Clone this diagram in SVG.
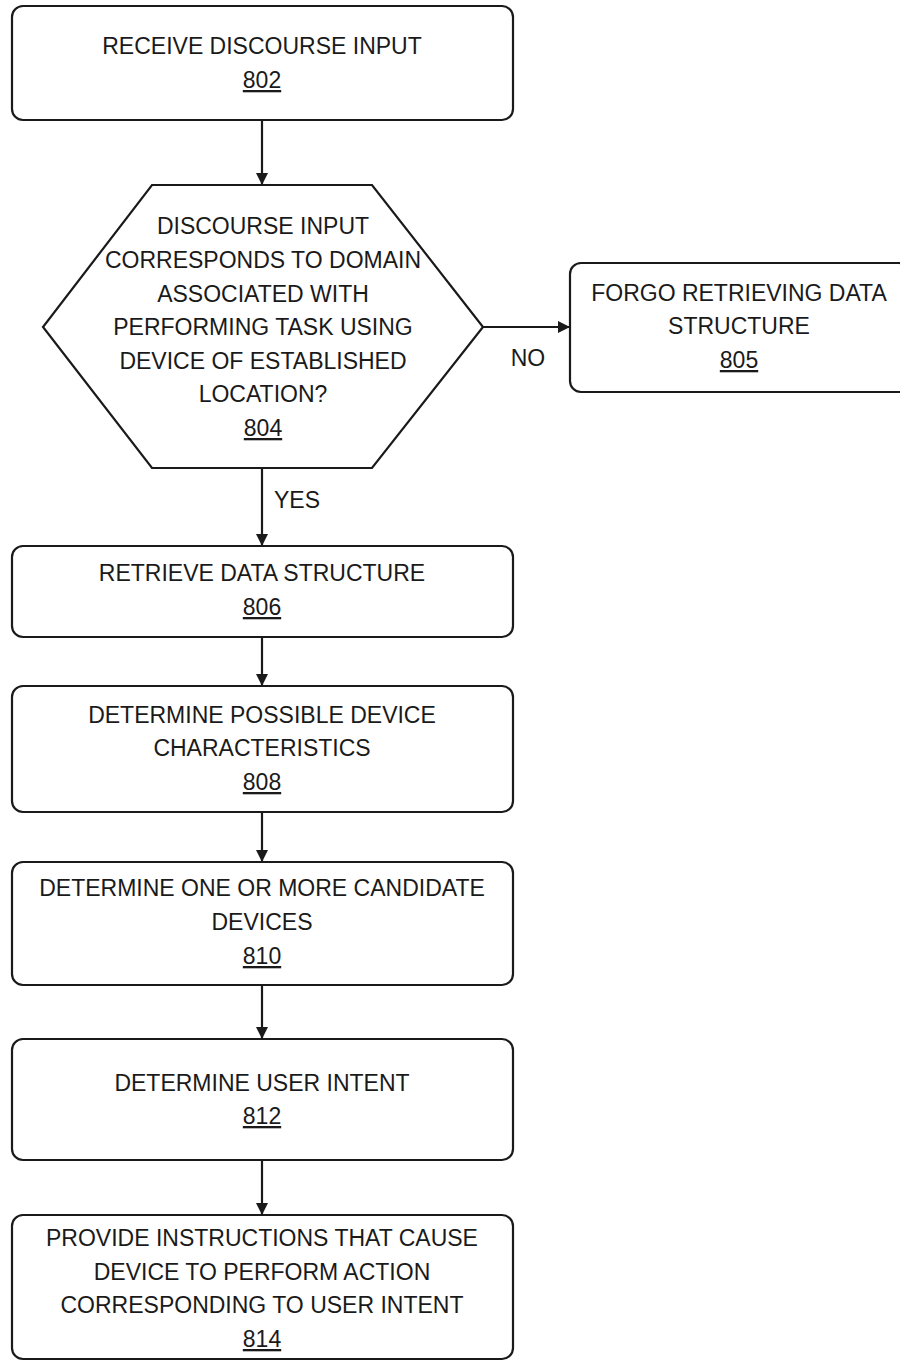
<svg xmlns="http://www.w3.org/2000/svg" width="900" height="1361" viewBox="0 0 900 1361">
  <style>
    .box { fill: #ffffff; stroke: #1a1a1a; stroke-width: 2.2; }
    .lbl { font-family: "Liberation Sans", Arial, sans-serif; font-size: 23px; fill: #1a1a1a; text-anchor: middle; }
    .ref { text-decoration: underline; }
    .conn { stroke: #1a1a1a; stroke-width: 2.2; fill: none; marker-end: url(#arrow); }
  </style>
  <defs>
    <marker id="arrow" viewBox="0 0 12 12" refX="12" refY="6" markerWidth="12" markerHeight="12" markerUnits="userSpaceOnUse" orient="auto">
      <path d="M0,0 L12,6 L0,12 Z" fill="#1a1a1a"/>
    </marker>
  </defs>
  <rect width="900" height="1361" fill="#ffffff"/>

  <g id="connectors">
    <line class="conn" x1="262" y1="120" x2="262" y2="185"/>
    <line class="conn" x1="483" y1="327" x2="570" y2="327"/>
    <line class="conn" x1="262" y1="468" x2="262" y2="546"/>
    <line class="conn" x1="262" y1="637" x2="262" y2="686"/>
    <line class="conn" x1="262" y1="812" x2="262" y2="862"/>
    <line class="conn" x1="262" y1="985" x2="262" y2="1039"/>
    <line class="conn" x1="262" y1="1160" x2="262" y2="1215"/>
    <text class="lbl" x="528" y="366">NO</text>
    <text class="lbl" x="297" y="508">YES</text>
  </g>

  <g id="n802">
    <rect class="box" x="12" y="6" width="501" height="114" rx="11"/>
    <text class="lbl" x="262" y="54">RECEIVE DISCOURSE INPUT</text>
    <text class="lbl ref" x="262" y="88">802</text>
  </g>

  <g id="n804">
    <polygon class="box" points="152,185 372,185 483,327 372,468 152,468 43,327"/>
    <text class="lbl" x="263" y="234">DISCOURSE INPUT</text>
    <text class="lbl" x="263" y="268">CORRESPONDS TO DOMAIN</text>
    <text class="lbl" x="263" y="302">ASSOCIATED WITH</text>
    <text class="lbl" x="263" y="335">PERFORMING TASK USING</text>
    <text class="lbl" x="263" y="369">DEVICE OF ESTABLISHED</text>
    <text class="lbl" x="263" y="402">LOCATION?</text>
    <text class="lbl ref" x="263" y="436">804</text>
  </g>

  <g id="n805">
    <rect class="box" x="570" y="263" width="340" height="129" rx="11"/>
    <text class="lbl" x="739" y="301">FORGO RETRIEVING DATA</text>
    <text class="lbl" x="739" y="334">STRUCTURE</text>
    <text class="lbl ref" x="739" y="368">805</text>
  </g>

  <g id="n806">
    <rect class="box" x="12" y="546" width="501" height="91" rx="11"/>
    <text class="lbl" x="262" y="581">RETRIEVE DATA STRUCTURE</text>
    <text class="lbl ref" x="262" y="615">806</text>
  </g>

  <g id="n808">
    <rect class="box" x="12" y="686" width="501" height="126" rx="11"/>
    <text class="lbl" x="262" y="723">DETERMINE POSSIBLE DEVICE</text>
    <text class="lbl" x="262" y="756">CHARACTERISTICS</text>
    <text class="lbl ref" x="262" y="790">808</text>
  </g>

  <g id="n810">
    <rect class="box" x="12" y="862" width="501" height="123" rx="11"/>
    <text class="lbl" x="262" y="896">DETERMINE ONE OR MORE CANDIDATE</text>
    <text class="lbl" x="262" y="930">DEVICES</text>
    <text class="lbl ref" x="262" y="964">810</text>
  </g>

  <g id="n812">
    <rect class="box" x="12" y="1039" width="501" height="121" rx="11"/>
    <text class="lbl" x="262" y="1091">DETERMINE USER INTENT</text>
    <text class="lbl ref" x="262" y="1124">812</text>
  </g>

  <g id="n814">
    <rect class="box" x="12" y="1215" width="501" height="144" rx="11"/>
    <text class="lbl" x="262" y="1246">PROVIDE INSTRUCTIONS THAT CAUSE</text>
    <text class="lbl" x="262" y="1280">DEVICE TO PERFORM ACTION</text>
    <text class="lbl" x="262" y="1313">CORRESPONDING TO USER INTENT</text>
    <text class="lbl ref" x="262" y="1347">814</text>
  </g>
</svg>
